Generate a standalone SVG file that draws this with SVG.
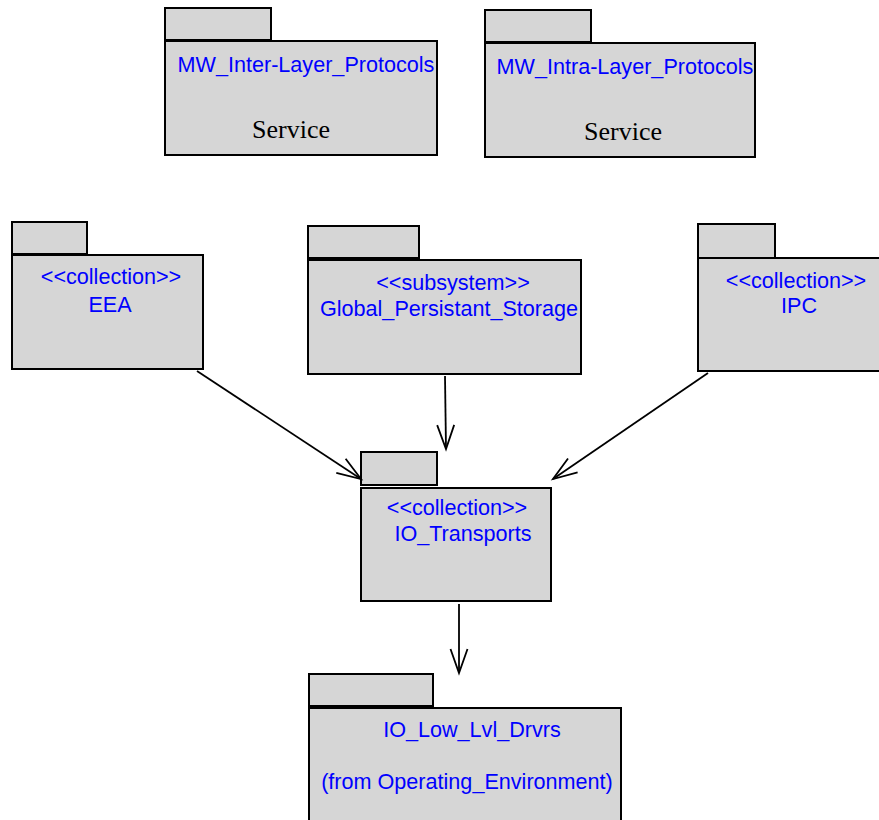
<svg xmlns="http://www.w3.org/2000/svg" width="879" height="820" viewBox="0 0 879 820">
<defs>
<style>
.pk{fill:#d6d6d6;stroke:#000;stroke-width:2}
.lb{font-family:"Liberation Sans",Arial,sans-serif;font-size:21.6px;fill:#0000ff;text-anchor:middle}
.sv{font-family:"Liberation Serif","Times New Roman",serif;font-size:26px;fill:#000;text-anchor:middle}
.cn{stroke:#000;stroke-width:1.8;fill:none}
</style>
<marker id="ah" markerUnits="userSpaceOnUse" markerWidth="30" markerHeight="24" viewBox="-26 -12 30 24" refX="0" refY="0" orient="auto">
<path d="M-24,-8.5 L0,0 L-24,8.5" fill="none" stroke="#000" stroke-width="1.8"/>
</marker>
</defs>
<rect width="879" height="820" fill="#fff"/>
<g id="MW_Inter-Layer_Protocols">
<rect class="pk" x="165" y="8" width="106" height="32"/>
<rect class="pk" x="165" y="41" width="272" height="114"/>
<text class="lb" x="306" y="72">MW_Inter-Layer_Protocols</text>
<text class="sv" x="291" y="138">Service</text>
</g>
<g id="MW_Intra-Layer_Protocols">
<rect class="pk" x="485" y="10" width="106" height="32"/>
<rect class="pk" x="485" y="43" width="270" height="114"/>
<text class="lb" x="625" y="74">MW_Intra-Layer_Protocols</text>
<text class="sv" x="623" y="140">Service</text>
</g>
<g id="EEA">
<rect class="pk" x="12" y="222" width="75" height="32"/>
<rect class="pk" x="12" y="255" width="191" height="114"/>
<text class="lb" x="111" y="284">&lt;&lt;collection&gt;&gt;</text>
<text class="lb" x="110" y="312">EEA</text>
</g>
<g id="Global_Persistant_Storage">
<rect class="pk" x="308" y="226" width="111" height="32"/>
<rect class="pk" x="308" y="260" width="273" height="114"/>
<text class="lb" x="453" y="290">&lt;&lt;subsystem&gt;&gt;</text>
<text class="lb" x="449" y="316">Global_Persistant_Storage</text>
</g>
<g id="IPC">
<rect class="pk" x="698" y="224" width="77" height="34"/>
<rect class="pk" x="698" y="258" width="195" height="113"/>
<text class="lb" x="796" y="288">&lt;&lt;collection&gt;&gt;</text>
<text class="lb" x="799" y="313">IPC</text>
</g>
<g id="IO_Transports">
<rect class="pk" x="361" y="452" width="76" height="33"/>
<rect class="pk" x="361" y="488" width="190" height="113"/>
<text class="lb" x="457" y="515">&lt;&lt;collection&gt;&gt;</text>
<text class="lb" x="463" y="541">IO_Transports</text>
</g>
<g id="IO_Low_Lvl_Drvrs">
<rect class="pk" x="309" y="674" width="124" height="32"/>
<rect class="pk" x="309" y="708" width="312" height="125"/>
<text class="lb" x="472" y="737">IO_Low_Lvl_Drvrs</text>
<text class="lb" x="467" y="789">(from Operating_Environment)</text>
</g>
<g id="connectors">
<line class="cn" x1="197" y1="371" x2="361" y2="479" marker-end="url(#ah)"/>
<line class="cn" x1="445" y1="376" x2="446" y2="449" marker-end="url(#ah)"/>
<line class="cn" x1="708" y1="373" x2="553" y2="479" marker-end="url(#ah)"/>
<line class="cn" x1="459" y1="604" x2="459" y2="673" marker-end="url(#ah)"/>
</g>
</svg>
